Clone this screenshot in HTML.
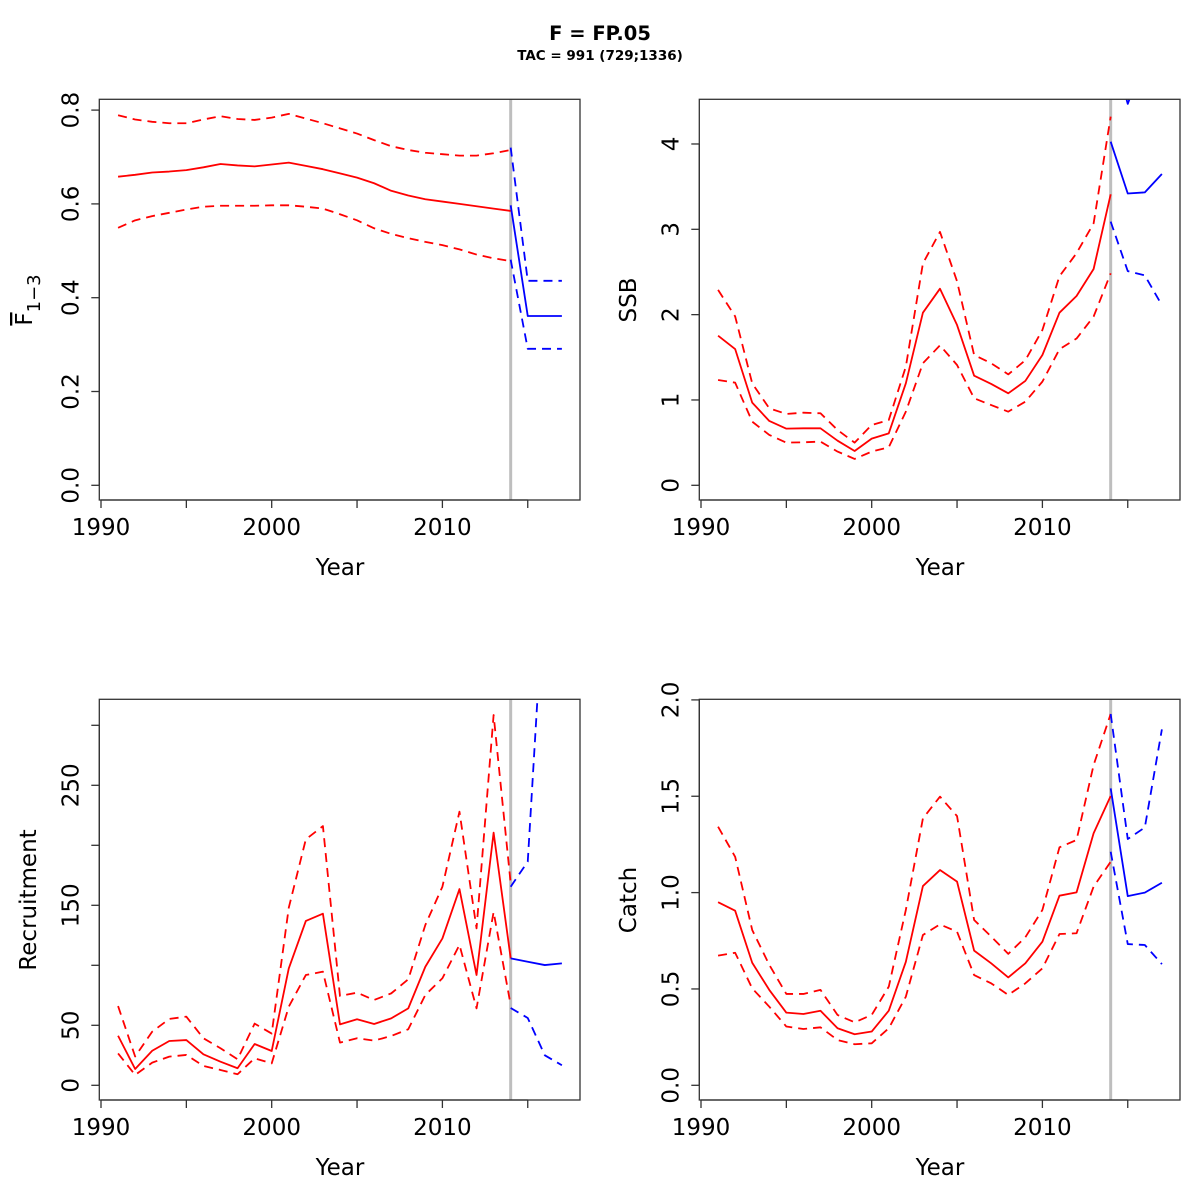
<!DOCTYPE html>
<html><head><meta charset="utf-8"><style>
html,body{margin:0;padding:0;background:#fff;}
svg{display:block;font-family:"DejaVu Sans","Liberation Sans",sans-serif;}
</style></head><body>
<svg id="fig" width="1200" height="1200" viewBox="0 0 1200 1200">
<text x="600" y="40" text-anchor="middle" font-weight="bold" font-size="19.5">F = FP.05</text>
<text x="600" y="60" text-anchor="middle" font-weight="bold" font-size="13.5">TAC = 991 (729;1336)</text>
</svg>
<script>
const years = [1991,1992,1993,1994,1995,1996,1997,1998,1999,2000,2001,2002,2003,2004,2005,2006,2007,2008,2009,2010,2011,2012,2013,2014];
const projYears = [2014,2015,2016,2017];

const fMean = [0.658,0.662,0.667,0.669,0.672,0.678,0.685,0.682,0.680,0.684,0.688,0.681,0.674,0.665,0.656,0.644,0.628,0.618,0.610,0.605,0.600,0.595,0.590,0.585];
const fHigh = [0.789,0.780,0.775,0.772,0.772,0.780,0.787,0.781,0.779,0.784,0.792,0.782,0.772,0.761,0.750,0.736,0.723,0.715,0.709,0.706,0.703,0.703,0.708,0.715];
const fLow = [0.549,0.565,0.574,0.581,0.588,0.594,0.596,0.596,0.596,0.597,0.597,0.594,0.590,0.578,0.565,0.548,0.536,0.527,0.519,0.512,0.503,0.492,0.484,0.478];
const fProj = [0.597,0.361,0.361,0.361];
const fProjHigh = [0.720,0.436,0.436,0.436];
const fProjLow = [0.481,0.291,0.291,0.291];

const ssbMean = [1.753,1.597,0.969,0.754,0.664,0.668,0.668,0.523,0.402,0.547,0.609,1.195,2.023,2.304,1.878,1.285,1.188,1.078,1.223,1.527,2.023,2.218,2.535,3.41];
const ssbHigh = [2.29,1.98,1.195,0.902,0.836,0.851,0.844,0.648,0.500,0.707,0.765,1.39,2.60,2.97,2.39,1.527,1.43,1.30,1.465,1.82,2.45,2.72,3.07,4.32];
const ssbLow = [1.234,1.203,0.746,0.590,0.500,0.504,0.512,0.395,0.309,0.395,0.446,0.863,1.43,1.64,1.41,1.02,0.94,0.863,0.98,1.215,1.594,1.72,1.977,2.484];
const ssbProj = [4.027,3.42,3.433,3.648];
const ssbProjHigh = [5.2,4.47,5.0,5.5];
const ssbProjLow = [3.09,2.51,2.46,2.11];

const recMean = [41.3,13.6,28.8,36.9,37.7,25.8,19.7,14.2,34.4,28.6,97.4,137,143,50.8,55,51.1,55.8,64.1,98.8,122.4,163.5,91.9,210.5,105.8];
const recHigh = [66,24,44.7,55.3,57.2,39.2,30.9,21.7,51.4,43.1,148,205,216,74.4,77.2,71.1,76.6,88.3,133.6,165.5,228,130.8,308.6,168.3];
const recLow = [26.6,8.6,18.9,23.9,25.3,16.1,12.8,9.2,22.5,18.3,65.5,91.9,94.7,35.6,39.2,37.2,41.1,46.7,75.3,89.2,117,64.1,144.4,66.9];
const recProj = [105.8,103,100.2,101.6];
const recProjHigh = [165.5,186.4,425,520];
const recProjLow = [64.4,56.1,25,16.7];

const catchMean = [0.950,0.906,0.636,0.495,0.377,0.370,0.387,0.296,0.265,0.279,0.387,0.641,1.034,1.117,1.057,0.699,0.633,0.560,0.633,0.745,0.984,1.001,1.308,1.501];
const catchHigh = [1.342,1.186,0.806,0.625,0.474,0.474,0.495,0.365,0.327,0.365,0.512,0.910,1.385,1.498,1.397,0.858,0.772,0.682,0.768,0.910,1.235,1.273,1.662,1.927];
const catchLow = [0.673,0.688,0.503,0.408,0.305,0.292,0.301,0.235,0.213,0.218,0.296,0.460,0.780,0.835,0.797,0.572,0.529,0.469,0.529,0.607,0.785,0.789,1.031,1.160];
const catchProj = [1.541,0.982,1.000,1.051];
const catchProjHigh = [1.927,1.278,1.338,1.847];
const catchProjLow = [1.212,0.733,0.728,0.629];

const xTicks = [1990,1995,2000,2005,2010,2015];
const xTickLabels = ["1990","","2000","","2010",""];
const fTicks = [0,0.2,0.4,0.6,0.8];
const fTickLabels = ["0.0","0.2","0.4","0.6","0.8"];
const ssbTicks = [0,1,2,3,4];
const ssbTickLabels = ["0","1","2","3","4"];
const recTicks = [0,50,100,150,200,250,300];
const recTickLabels = ["0","50","","150","","250",""];
const catchTicks = [0,0.5,1,1.5,2];
const catchTickLabels = ["0.0","0.5","1.0","1.5","2.0"];

const NS = "http://www.w3.org/2000/svg";
const svg = document.getElementById('fig');
function mk(tag, attrs, parent){
  const e = document.createElementNS(NS, tag);
  for (const k in attrs) e.setAttribute(k, attrs[k]);
  (parent||svg).appendChild(e);
  return e;
}

function panel(cfg){
  const L = cfg.ox + 99.3, R = cfg.ox + 580, T = cfg.oy + 99.3, B = cfg.oy + 500;
  const x = yr => cfg.ox + 101 + (yr - 1990) * 17.07;
  const y = v => cfg.y0 - v * cfg.ppu;
  const g = mk('g', {});
  
  
  const cid = cfg.name + '-clip';
  const cp = mk('clipPath', {id: cid}, g);
  mk('rect', {x: L, y: T, width: R - L, height: B - T}, cp);
  const plot = mk('g', {'clip-path': 'url(#' + cid + ')'}, g);
  
  

  const vl = mk('line', {x1: x(2014), x2: x(2014), y1: T, y2: B, stroke: '#bebebe', 'stroke-width': 3}, plot);
  
  

  function line(xs, vals, color, dashed, nm){
    const pts = xs.map((yr, i) => x(yr).toFixed(2) + ',' + y(vals[i]).toFixed(2)).join(' ');
    const p = mk('polyline', {points: pts, fill: 'none', stroke: color, 'stroke-width': 1.8, 'stroke-linejoin': 'round'}, plot);
    if (dashed) p.setAttribute('stroke-dasharray', '9,6');
    
    
  }
  line(years, cfg.high, '#ff0000', true, cfg.name + '-upper-ci');
  line(years, cfg.low, '#ff0000', true, cfg.name + '-lower-ci');
  line(years, cfg.mean, '#ff0000', false, cfg.name + '-estimate');
  line(projYears, cfg.pHigh, '#0000ff', true, cfg.name + '-projection-upper');
  line(projYears, cfg.pLow, '#0000ff', true, cfg.name + '-projection-lower');
  line(projYears, cfg.pMean, '#0000ff', false, cfg.name + '-projection');

  const box = mk('rect', {x: L, y: T, width: R - L, height: B - T, fill: 'none', stroke: '#333', 'stroke-width': 1.3}, g);
  
  

  const xa = mk('g', {}, g);
  
  
  mk('line', {x1: x(xTicks[0]), x2: x(xTicks[xTicks.length-1]), y1: B, y2: B, stroke: '#333', 'stroke-width': 1.3}, xa);
  xTicks.forEach((t, i) => {
    mk('line', {x1: x(t), x2: x(t), y1: B, y2: B + 8, stroke: '#333', 'stroke-width': 1.3}, xa);
    if (xTickLabels[i]) {
      const tx = mk('text', {x: x(t), y: B + 35, 'text-anchor': 'middle', 'font-size': 23}, xa);
      tx.textContent = xTickLabels[i];
      
      
    }
  });
  const xt = mk('text', {x: cfg.ox + 340, y: B + 75, 'text-anchor': 'middle', 'font-size': 23}, g);
  xt.textContent = 'Year';
  
  

  const ya = mk('g', {}, g);
  
  
  mk('line', {x1: L, x2: L, y1: y(cfg.ticks[0]), y2: y(cfg.ticks[cfg.ticks.length-1]), stroke: '#333', 'stroke-width': 1.3}, ya);
  cfg.ticks.forEach((t, i) => {
    mk('line', {x1: L - 8, x2: L, y1: y(t), y2: y(t), stroke: '#333', 'stroke-width': 1.3}, ya);
    if (cfg.labels[i]) {
      const tx = mk('text', {x: 0, y: 0, 'text-anchor': 'middle', 'font-size': 23, transform: 'translate(' + (L - 21) + ',' + y(t) + ') rotate(-90)'}, ya);
      tx.textContent = cfg.labels[i];
      
      
    }
  });
  const yt = mk('text', {x: 0, y: 0, 'text-anchor': 'middle', 'font-size': 23, transform: 'translate(' + (cfg.ox + cfg.titleX) + ',' + (cfg.oy + 300) + ') rotate(-90)'}, g);
  
  
  if (cfg.fbar) {
    const t1 = mk('tspan', {'text-decoration': 'overline'}, yt); t1.textContent = 'F';
    const t2 = mk('tspan', {'font-size': 18, dy: 8}, yt); t2.textContent = '1\u22123';
  } else {
    yt.textContent = cfg.title;
  }
}

panel({name:'fbar', ox:0, oy:0, y0:485.3, ppu:469, mean:fMean, high:fHigh, low:fLow, pMean:fProj, pHigh:fProjHigh, pLow:fProjLow, ticks:fTicks, labels:fTickLabels, titleX:32, fbar:true});
panel({name:'ssb', ox:600, oy:0, y0:485.3, ppu:85.33, mean:ssbMean, high:ssbHigh, low:ssbLow, pMean:ssbProj, pHigh:ssbProjHigh, pLow:ssbProjLow, ticks:ssbTicks, labels:ssbTickLabels, titleX:36, title:'SSB'});
panel({name:'recruitment', ox:0, oy:600, y0:1085.3, ppu:1.2, mean:recMean, high:recHigh, low:recLow, pMean:recProj, pHigh:recProjHigh, pLow:recProjLow, ticks:recTicks, labels:recTickLabels, titleX:36, title:'Recruitment'});
panel({name:'catch', ox:600, oy:600, y0:1085.3, ppu:192.7, mean:catchMean, high:catchHigh, low:catchLow, pMean:catchProj, pHigh:catchProjHigh, pLow:catchProjLow, ticks:catchTicks, labels:catchTickLabels, titleX:36, title:'Catch'});
</script>
</body></html>
